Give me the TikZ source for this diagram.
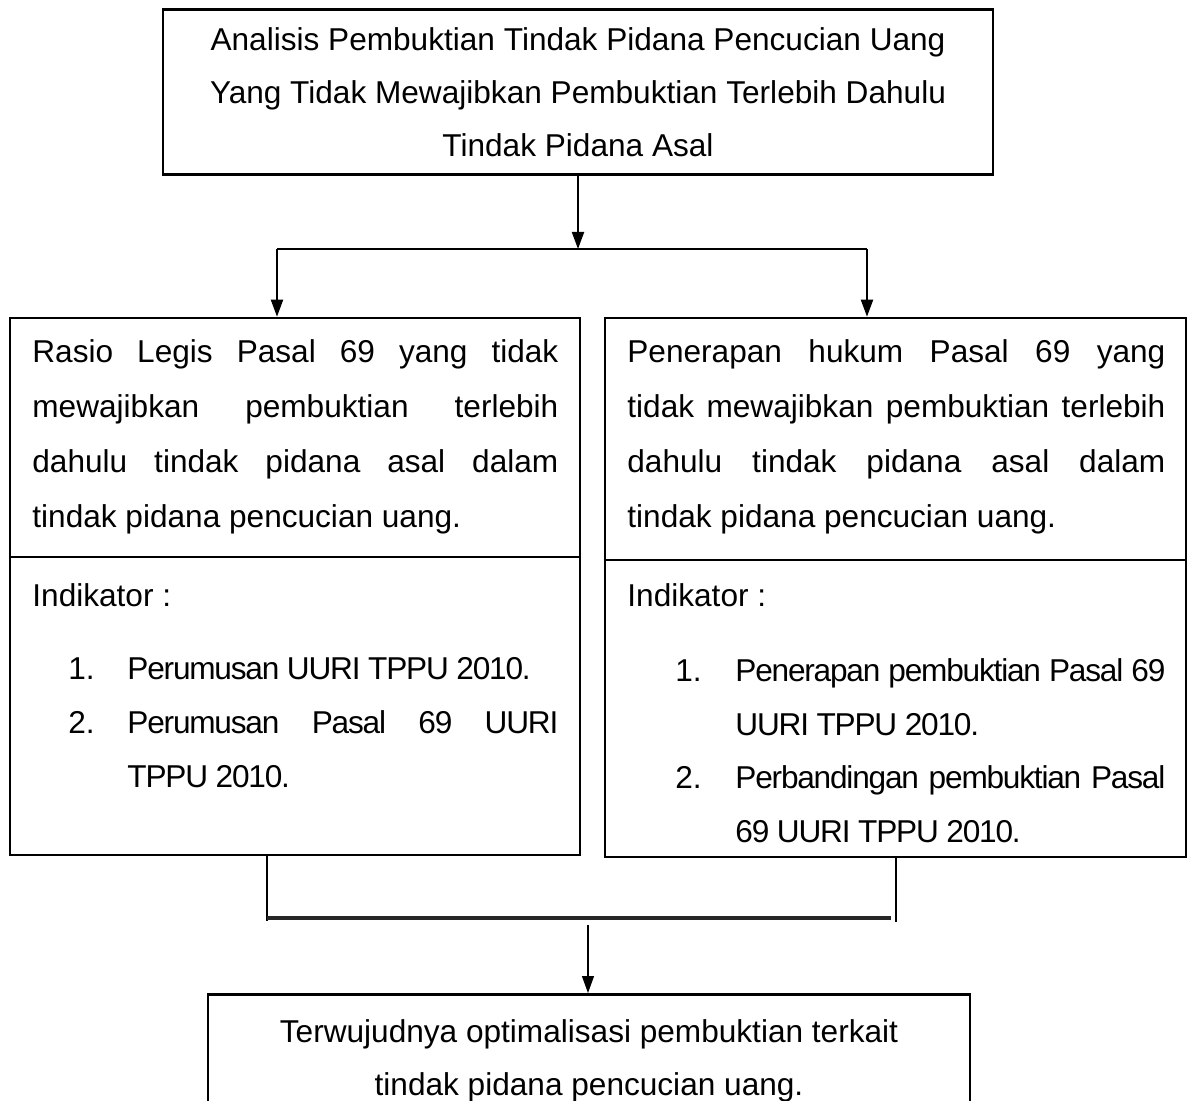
\documentclass[tikz,border=0pt]{standalone}
\usepackage{fontspec}
\setmainfont{Liberation Sans}
\newfontfamily\itemfont[LetterSpace=-3.8]{Liberation Sans}
\usetikzlibrary{arrows.meta}
\hyphenpenalty=10000
\tolerance=10000

\tikzset{
  box/.style={draw, line width=1.3pt, rectangle},
  txt/.style={inner sep=0pt, font=\fontsize{15.8}{27.5}\selectfont},
  para/.style={txt, anchor=base west, align=justify, text width=#1},
  itm/.style={para=#1, font=\itemfont\fontsize{15.8}{27}\selectfont},
  arr/.style={-{Triangle[length=8.5pt,width=6pt]}, line width=1pt},
}

\begin{document}
\begin{tikzpicture}[x=0.5pt, y=-0.5pt]
  \useasboundingbox (0,0) rectangle (1194,1101);

  % boxes
  \node[box, anchor=north, minimum width=415pt, inner ysep=9pt, align=center,
        font=\fontsize{15.8}{26.5}\selectfont] (judul) at (578,8)
    {Analisis Pembuktian Tindak Pidana Pencucian Uang\\
     Yang Tidak Mewajibkan Pembuktian Terlebih Dahulu\\
     Tindak Pidana Asal};
  \node[box, minimum width=285pt, minimum height=268.5pt] (rasio) at (295,586.5) {};
  \node[box, minimum width=290.5pt, minimum height=269.5pt] (penerapan) at (895.5,587.5) {};
  \node[box, anchor=north, minimum width=381pt, inner ysep=12.5pt, align=center,
        font=\fontsize{15.8}{26.5}\selectfont] (hasil) at (589,993)
    {Terwujudnya optimalisasi pembuktian terkait\\
     tindak pidana pencucian uang.};

  \draw[line width=0.6pt] (rasio.west |- 0,557) -- (rasio.east |- 0,557);
  \draw[line width=0.6pt] (penerapan.west |- 0,560) -- (penerapan.east |- 0,560);

  % left box text
  \node[para=263pt] (rasiotxt) at (32,363)
    {Rasio Legis Pasal 69 yang tidak\linebreak
     mewajibkan pembuktian terlebih\linebreak
     dahulu tindak pidana asal dalam\linebreak
     tindak pidana pencucian uang.};
  \node[txt, anchor=base west] (rasioind) at (32,606) {Indikator :};
  \node[txt, anchor=base west] (rasion1) at (68,679) {1.};
  \node[itm=215.5pt] (rasioi1) at (127,679) {Perumusan UURI TPPU 2010.};
  \node[txt, anchor=base west] (rasion2) at (68,733) {2.};
  \node[itm=215.5pt] (rasioi2) at (127,733)
    {Perumusan Pasal 69 UURI\linebreak TPPU 2010.};

  % right box text
  \node[para=269pt] (penerapantxt) at (627,363)
    {Penerapan hukum Pasal 69 yang\linebreak
     tidak mewajibkan pembuktian terlebih\linebreak
     dahulu tindak pidana asal dalam\linebreak
     tindak pidana pencucian uang.};
  \node[txt, anchor=base west] (penerapanind) at (627,606) {Indikator :};
  \node[txt, anchor=base west] (penerapann1) at (675,681) {1.};
  \node[itm=215pt] (penerapani1) at (735,681)
    {Penerapan pembuktian Pasal 69\linebreak UURI TPPU 2010.};
  \node[txt, anchor=base west] (penerapann2) at (675,788) {2.};
  \node[itm=215pt] (penerapani2) at (735,788)
    {Perbandingan pembuktian Pasal\linebreak 69 UURI TPPU 2010.};

  % connectors
  \coordinate (cabang) at (578,249);
  \coordinate (cabangL) at (277,249);
  \coordinate (cabangR) at (867,249);
  \draw[arr] (judul) -- (cabang);
  \draw[line width=1pt] (cabangL) -- (cabangR);
  \draw[arr] (cabangL) -- (rasio.north -| cabangL);
  \draw[arr] (cabangR) -- (penerapan.north -| cabangR);

  \coordinate (gabungL) at (267,921);
  \coordinate (gabungR) at (896,922);
  \coordinate (gabungE) at (891,918);
  \coordinate (turun) at (588,925);
  \draw[line width=0.75pt] (rasio.south -| gabungL) -- (gabungL);
  \draw[line width=0.75pt] (penerapan.south -| gabungR) -- (gabungR);
  \draw[line width=1.6pt, black!85] (gabungL |- gabungE) -- (gabungE);
  \draw[arr, line width=0.6pt] (turun) -- (hasil.north -| turun);
\end{tikzpicture}
\end{document}
